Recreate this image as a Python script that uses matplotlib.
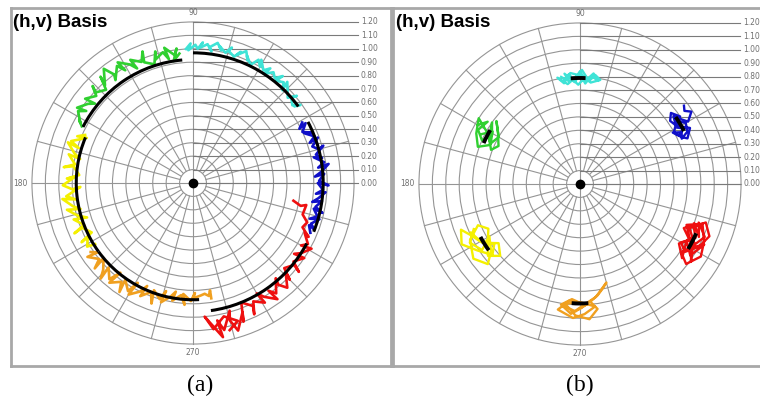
"""
(h,v) basis polar plots, panels (a) and (b)
"""

import matplotlib.pyplot as plt
import numpy as np
from matplotlib.patches import Arc, Circle


# ------ data ------
# angles in degrees (0 = right, counter-clockwise), radius in plot units

# -- panel (a): traces running round the circle --
cyan_a_theta = [93, 91, 92, 89, 88, 86, 87, 84, 82, 83, 80, 78, 79, 76, 74, 75, 72, 70, 71, 68, 66, 67,
                64, 62, 60, 61, 58, 56, 57, 54, 52, 50, 51, 48, 46, 47, 44, 42, 40, 41, 38, 36, 37]
cyan_a_r = [1.00, 1.04, 0.99, 1.03, 1.00, 1.05, 1.01, 1.04, 0.99, 1.02, 1.06, 1.01, 1.04, 1.00, 1.05,
            1.02, 0.99, 1.04, 1.01, 1.06, 1.00, 1.03, 0.98, 1.04, 1.00, 1.05, 0.99, 1.03, 0.97, 1.02,
            0.99, 1.04, 0.98, 1.01, 0.96, 1.03, 0.98, 0.95, 1.01, 0.97, 0.94, 0.99, 0.95]

blue_a_theta = [29, 27, 28, 25, 23, 24, 21, 19, 20, 17, 15, 16, 13, 11, 12, 9, 7, 8, 5, 3, 4, 1, -1, 0,
                -3, -5, -4, -7, -9, -8, -11, -13, -12, -15, -17, -16, -19, -21, -20, -23]
blue_a_r = [0.93, 0.89, 0.95, 0.90, 0.96, 0.91, 0.97, 0.92, 0.99, 0.93, 0.97, 1.01, 0.94, 0.98, 0.92,
            0.99, 0.94, 1.02, 0.96, 0.91, 0.98, 0.94, 1.01, 0.93, 0.97, 0.92, 0.99, 0.94, 0.90, 0.97,
            0.93, 0.99, 0.92, 0.96, 0.91, 0.98, 0.93, 0.97, 0.92, 0.95]

red_a_theta = [-10, -12, -11, -16, -19, -22, -25, -24, -28, -30, -29, -33, -35, -34, -38, -40, -39, -43,
               -45, -44, -48, -50, -49, -53, -55, -54, -58, -60, -59, -63, -65, -64, -68, -70, -69, -73,
               -75, -74, -78, -80, -79, -83, -85, -82, -77, -72, -76]
red_a_r = [0.76, 0.82, 0.86, 0.85, 0.90, 0.88, 0.95, 0.91, 0.97, 0.93, 1.01, 0.96, 0.92, 1.00, 0.95,
           1.03, 0.97, 0.93, 1.02, 0.96, 1.05, 0.99, 0.94, 1.03, 0.98, 1.07, 1.00, 0.95, 1.04, 0.99,
           1.08, 1.02, 0.96, 1.10, 1.03, 1.15, 1.06, 0.99, 1.12, 1.04, 1.17, 1.05, 1.00, 1.10, 1.02,
           1.08, 1.13]

orange_a_theta = [214, 216, 215, 219, 221, 220, 224, 226, 225, 229, 231, 230, 234, 236, 235, 239, 241,
                  240, 244, 246, 245, 249, 251, 250, 254, 256, 255, 259, 261, 260, 264, 266, 265, 269,
                  271, 270, 274, 276, 278, 279, 279]
orange_a_r = [0.92, 0.88, 0.96, 0.90, 0.97, 0.87, 0.93, 0.99, 0.89, 0.95, 0.86, 0.97, 0.91, 0.98, 0.88,
              0.94, 0.85, 0.96, 0.90, 0.84, 0.93, 0.87, 0.95, 0.85, 0.90, 0.83, 0.92, 0.86, 0.82, 0.89,
              0.84, 0.91, 0.83, 0.88, 0.82, 0.86, 0.84, 0.83, 0.85, 0.81, 0.87]

yellow_a_theta = [156, 158, 157, 161, 163, 162, 166, 168, 167, 171, 173, 172, 176, 178, 177, 181, 183,
                  182, 186, 188, 187, 191, 193, 192, 196, 198, 197, 201, 203, 202, 206, 208, 207, 211,
                  212]
yellow_a_r = [0.88, 0.93, 0.86, 0.96, 0.89, 0.98, 0.91, 0.86, 0.95, 0.89, 0.97, 0.90, 0.85, 0.94, 0.88,
              0.97, 0.90, 0.84, 0.95, 0.88, 0.98, 0.91, 0.86, 0.96, 0.89, 0.83, 0.93, 0.87, 0.96, 0.89,
              0.84, 0.94, 0.88, 0.92, 0.86]

green_a_theta = [153, 151, 152, 148, 146, 147, 143, 141, 142, 138, 136, 137, 133, 131, 132, 128, 126,
                 127, 123, 121, 122, 118, 116, 117, 113, 111, 112, 108, 106, 107, 103, 101, 102, 98, 97,
                 99, 96]
green_a_r = [0.93, 0.97, 0.95, 1.01, 0.96, 1.03, 0.98, 0.94, 1.02, 0.97, 1.04, 0.99, 0.95, 1.05, 0.98,
             1.08, 1.00, 0.96, 1.04, 0.98, 1.06, 1.00, 0.95, 1.03, 0.98, 1.05, 0.97, 0.93, 1.02, 0.96,
             1.00, 0.94, 1.03, 0.96, 1.01, 0.92, 0.97]

# fitted arcs of panel (a): start angle, end angle, radius
fit_a_start = [36, -22, -82, 216, 157, 95]
fit_a_end = [90, 28, -28, 273, 216, 153]
fit_a_r = [0.97, 0.97, 0.96, 0.87, 0.87, 0.92]

# -- panel (b): small clusters --
cyan_b_theta = [100, 96, 98, 93, 90, 87, 84, 80, 83, 87, 90, 93, 96, 99, 102, 97, 92, 89, 85, 82, 79,
                84, 89, 94, 91, 87, 95, 99]
cyan_b_r = [0.81, 0.77, 0.83, 0.76, 0.82, 0.75, 0.81, 0.78, 0.83, 0.77, 0.84, 0.78, 0.82, 0.76, 0.81,
            0.75, 0.80, 0.85, 0.77, 0.82, 0.79, 0.76, 0.81, 0.78, 0.74, 0.80, 0.83, 0.78]

blue_b_theta = [37, 35, 33, 30, 33, 36, 32, 28, 26, 29, 27, 24, 26, 30, 33, 29, 25, 23, 27, 31, 35, 38,
                34, 31, 28, 30]
blue_b_r = [0.97, 0.95, 0.99, 0.93, 0.89, 0.86, 0.84, 0.87, 0.82, 0.79, 0.85, 0.83, 0.89, 0.91, 0.86,
            0.80, 0.83, 0.87, 0.92, 0.84, 0.82, 0.86, 0.90, 0.85, 0.88, 0.84]

red_b_theta = [-19, -24, -18, -23, -30, -26, -33, -28, -36, -31, -27, -21, -18, -25, -31, -37, -34, -28,
               -22, -17, -22, -28, -33, -30, -25, -20, -23, -29, -35, -26]
red_b_r = [0.90, 0.97, 0.93, 1.01, 0.95, 1.03, 0.98, 0.90, 0.94, 0.86, 0.92, 0.85, 0.96, 1.02, 1.05,
           0.99, 0.91, 0.97, 0.88, 0.98, 1.04, 1.00, 0.93, 0.87, 0.95, 0.90, 0.84, 0.96, 1.01, 0.92]

orange_b_theta = [262, 266, 272, 265, 260, 267, 272, 277, 270, 263, 268, 274, 278, 275, 279, 282, 285,
                  278, 272, 266, 261, 268, 274, 270]
orange_b_r = [0.92, 0.97, 0.90, 0.87, 0.95, 1.00, 0.97, 0.92, 0.88, 0.90, 0.98, 1.01, 0.94, 0.88, 0.84,
              0.80, 0.76, 0.85, 0.90, 0.86, 0.91, 0.95, 0.89, 0.93]

yellow_b_theta = [203, 208, 214, 210, 217, 221, 215, 207, 202, 206, 212, 218, 222, 216, 211, 205, 201,
                  207, 213, 219, 215, 209, 204]
yellow_b_r = [0.86, 0.93, 0.88, 0.78, 0.83, 0.91, 0.97, 0.92, 0.82, 0.76, 0.81, 0.87, 0.80, 0.75, 0.85,
              0.90, 0.95, 0.99, 0.91, 0.84, 0.78, 0.86, 0.89]

green_b_theta = [150, 146, 152, 156, 151, 145, 153, 159, 155, 148, 143, 150, 157, 160, 154, 147, 151,
                 156, 149, 153]
green_b_r = [0.88, 0.83, 0.86, 0.80, 0.75, 0.80, 0.76, 0.71, 0.67, 0.72, 0.78, 0.70, 0.74, 0.81, 0.86,
             0.90, 0.79, 0.73, 0.76, 0.82]

# short fitted arcs of panel (b): centre angle, radius
fit_b_theta = [91, 31, -27, 270, 212, 153]
fit_b_r = [0.79, 0.87, 0.94, 0.89, 0.84, 0.78]

radial_ticks = [0.0, 0.1, 0.2, 0.3, 0.4, 0.5, 0.6, 0.7, 0.8, 0.9, 1.0, 1.1, 1.2]
angle_labels = ['90', '180', '270']

colors = ['#3fe3d6', '#1010c8', '#ee1010', '#f0a020', '#f4f000', '#30d030']

# ------ figure ------
W, H = 760, 407
SCALE = 134.2  # px per unit radius
RMAX = 1.2
grid_col = '#959595'
lab_col = '#707070'

fig = plt.figure(figsize=(W / 100, H / 100), dpi=100)
fig.patch.set_facecolor('white')


def panel_axes(box, centre):
    x0, y0, x1, y1 = box
    cx, cy = centre
    ax = fig.add_axes([x0 / W, 1 - y1 / H, (x1 - x0) / W, (y1 - y0) / H])
    ax.set_xlim((x0 - cx) / SCALE, (x1 - cx) / SCALE)
    ax.set_ylim((cy - y1) / SCALE, (cy - y0) / SCALE)
    ax.set_xticks([])
    ax.set_yticks([])
    for s in ax.spines.values():
        s.set_color('#a8a8a8')
        s.set_linewidth(2)
    return ax


def xy(theta, r):
    t = np.radians(np.asarray(theta, dtype=float))
    r = np.asarray(r, dtype=float)
    return r * np.cos(t), r * np.sin(t)


def draw_grid(ax, label_x):
    for r in radial_ticks[1:]:
        ax.add_patch(Circle((0, 0), r, fill=False, ec=grid_col, lw=0.8, zorder=1))
    for a in range(0, 360, 15):
        r0 = 0 if a % 90 == 0 else 0.1
        xs, ys = xy([a, a], [r0, RMAX])
        ax.plot(xs, ys, color=grid_col, lw=0.8, zorder=1)
    # radial scale drawn as leader lines to the right
    for r in radial_ticks:
        ax.plot([0, label_x - 0.02], [r, r], color='#7a7a7a', lw=0.8, clip_on=False, zorder=1)
        ax.text(label_x, r, f'{r:.2f}', fontsize=5.5, color=lab_col, va='center', ha='left',
                clip_on=False)
    ax.text(0, RMAX + 0.04, angle_labels[0], fontsize=5.5, color=lab_col, ha='center', va='bottom')
    ax.text(-RMAX - 0.03, 0, angle_labels[1], fontsize=5.5, color=lab_col, ha='right', va='center')
    ax.text(0, -RMAX - 0.03, angle_labels[2], fontsize=5.5, color=lab_col, ha='center', va='top')
    ax.plot([0], [0], 'o', color='black', ms=6, zorder=4)


# -- panel (a) --
ax_a = panel_axes((11, 8, 391, 366), (193, 183))
draw_grid(ax_a, 1.25)
traces_a = [(cyan_a_theta, cyan_a_r), (blue_a_theta, blue_a_r), (red_a_theta, red_a_r),
            (orange_a_theta, orange_a_r), (yellow_a_theta, yellow_a_r), (green_a_theta, green_a_r)]
for (th, rr), c in zip(traces_a, colors):
    xs, ys = xy(th, rr)
    ax_a.plot(xs, ys, color=c, lw=1.9, zorder=2)
for t1, t2, r in zip(fit_a_start, fit_a_end, fit_a_r):
    ax_a.add_patch(Arc((0, 0), 2 * r, 2 * r, theta1=t1, theta2=t2, color='black', lw=2.2, zorder=3))

# -- panel (b) --
ax_b = panel_axes((393, 8, 780, 366), (580, 184))
draw_grid(ax_b, 1.215)
traces_b = [(cyan_b_theta, cyan_b_r), (blue_b_theta, blue_b_r), (red_b_theta, red_b_r),
            (orange_b_theta, orange_b_r), (yellow_b_theta, yellow_b_r), (green_b_theta, green_b_r)]
for (th, rr), c in zip(traces_b, colors):
    xs, ys = xy(th, rr)
    ax_b.plot(xs, ys, color=c, lw=1.7, zorder=2)
for t, r in zip(fit_b_theta, fit_b_r):
    ax_b.add_patch(Arc((0, 0), 2 * r, 2 * r, theta1=t - 4, theta2=t + 4, color='black', lw=2.8,
                       zorder=3))

# -- titles and captions --
for x in (13, 396):
    fig.text(x / W, 1 - 14 / H, '(h,v) Basis', fontsize=13.5, fontweight='bold',
             family='Liberation Sans', ha='left', va='top')
fig.text(200 / W, 1 - 385 / H, '(a)', fontsize=17, family='Liberation Serif', ha='center', va='center')
fig.text(580 / W, 1 - 385 / H, '(b)', fontsize=17, family='Liberation Serif', ha='center', va='center')

fig.savefig('out.png', dpi=100)
